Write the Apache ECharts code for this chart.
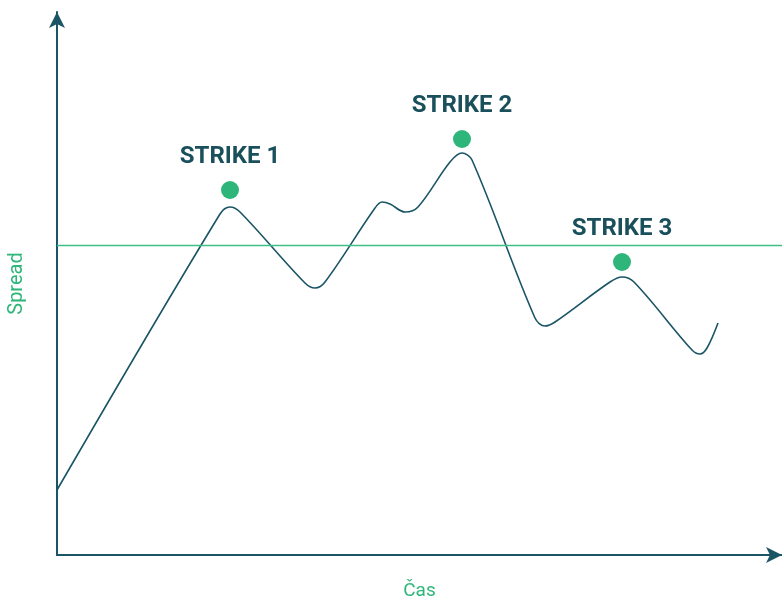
<!DOCTYPE html>
<html><head><meta charset="utf-8">
<script src="https://cdn.jsdelivr.net/npm/echarts@6/dist/echarts.min.js"></script>
<style>html,body{margin:0;padding:0;background:#fff}#c{width:782px;height:601px}</style>
</head><body><div id="c"></div>
<script>
// spread path (time units, spread units)
const pathX = [0, 163, 173, 183, 248, 258, 268, 318, 325, 333, 348, 361, 393, 405, 415, 478, 488, 498, 553, 565, 577, 635, 643, 650, 661];
const pathY = [65, 341, 348, 343, 272, 267, 273, 347, 353, 351, 343, 348, 393, 402, 395, 237, 229, 233, 273, 278, 273, 205, 201, 207, 232];
// strike markers
const strikeNames = ['STRIKE 1', 'STRIKE 2', 'STRIKE 3'];
const strikeX = [173, 405, 565];
const strikeY = [365, 416, 293];
// reference level
const levelY = 310;

const chart = echarts.init(document.getElementById('c'));
chart.setOption({
  animation: false,
  grid: {left: 57, right: 0, top: 12, bottom: 46, containLabel: false, outerBoundsMode: 'none'},
  xAxis: {
    type: 'value', min: 0, max: 725,
    name: 'Čas', nameLocation: 'middle', nameGap: 27,
    nameTextStyle: {color: '#2eb67a', fontSize: 19, fontFamily: 'Roboto'},
    axisLine: {lineStyle: {color: '#1a5566', width: 2}, symbol: ['none', 'arrow'], symbolSize: [12, 16]},
    axisTick: {show: false}, axisLabel: {show: false}, splitLine: {show: false}
  },
  yAxis: {
    type: 'value', min: 0, max: 543,
    name: 'Spread', nameLocation: 'middle', nameGap: 30,
    nameTextStyle: {color: '#2eb67a', fontSize: 20, fontFamily: 'Roboto'},
    axisLine: {show: true, lineStyle: {color: '#1a5566', width: 2}, symbol: ['none', 'arrow'], symbolSize: [12, 16]},
    axisTick: {show: false}, axisLabel: {show: false}, splitLine: {show: false}
  },
  series: [
    {
      type: 'line', smooth: 0.35, symbol: 'none',
      data: pathX.map((x, i) => [x, pathY[i]]),
      lineStyle: {color: '#1a5566', width: 1.6},
      markLine: {
        silent: true, symbol: 'none', label: {show: false},
        lineStyle: {color: '#3dbf86', width: 1.3, type: 'solid'},
        data: [{yAxis: levelY, x: 57, x2: 782}]
      }
    },
    {
      type: 'scatter', symbolSize: 18,
      itemStyle: {color: '#2eb67a', opacity: 1},
      data: strikeX.map((x, i) => ({value: [x, strikeY[i]], name: strikeNames[i]})),
      label: {
        show: true, position: 'top', distance: 12,
        formatter: p => p.name,
        color: '#1a4f5c', fontSize: 24, fontWeight: 'bold', fontFamily: 'Roboto'
      }
    }
  ]
});
</script></body></html>
